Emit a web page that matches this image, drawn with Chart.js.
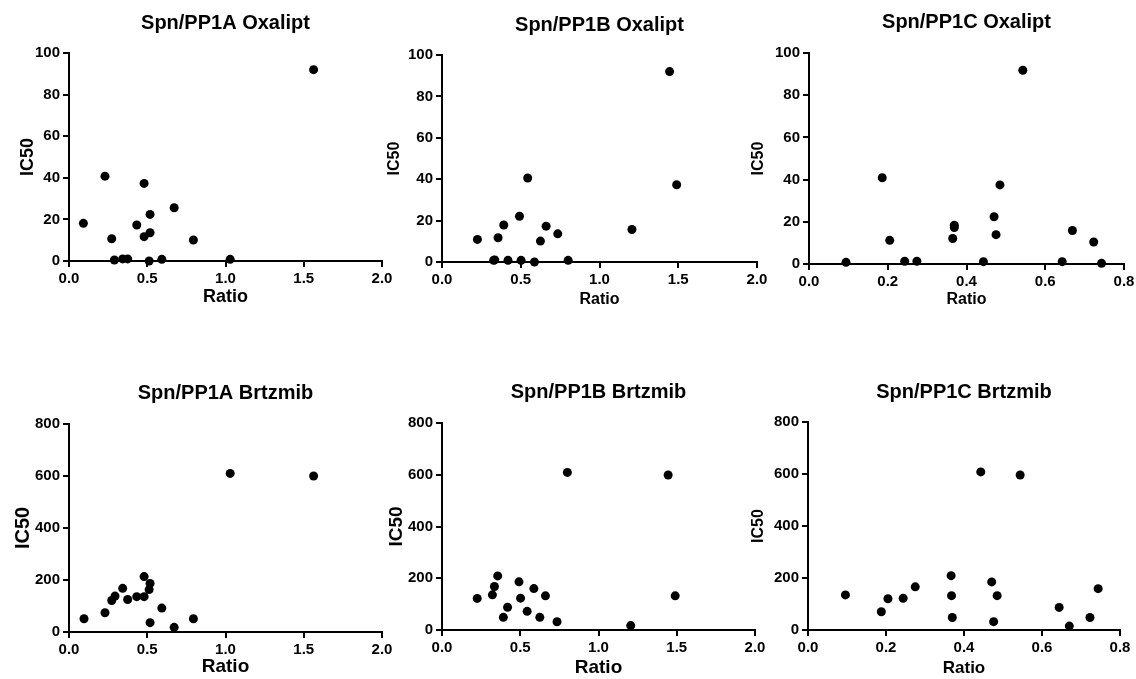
<!DOCTYPE html>
<html>
<head>
<meta charset="utf-8">
<script src="https://cdn.jsdelivr.net/npm/chart.js@4"></script>
<style>
  body { margin: 0; background: #fff; width: 1136px; height: 679px; position: relative; overflow: hidden; }
  canvas { position: absolute; }
</style>
</head>
<body>
<canvas id="c1"></canvas>
<canvas id="c2"></canvas>
<canvas id="c3"></canvas>
<canvas id="c4"></canvas>
<canvas id="c5"></canvas>
<canvas id="c6"></canvas>
<script>
// ratio values
const ratioA = [0.092, 0.230, 0.273, 0.290, 0.343, 0.375, 0.433, 0.480, 0.480, 0.518, 0.518, 0.512, 0.593, 0.672, 0.795, 1.030, 1.563];
const ratioB_ox = [0.225, 0.328, 0.335, 0.356, 0.392, 0.419, 0.492, 0.502, 0.544, 0.587, 0.625, 0.661, 0.735, 0.801, 1.206, 1.445, 1.490];
const ratioC_ox = [0.094, 0.186, 0.205, 0.243, 0.274, 0.365, 0.369, 0.369, 0.443, 0.470, 0.475, 0.485, 0.543, 0.643, 0.669, 0.723, 0.743];
const ratioA_bz = [0.096, 0.230, 0.273, 0.294, 0.343, 0.375, 0.433, 0.480, 0.480, 0.518, 0.512, 0.518, 0.593, 0.672, 0.795, 1.030, 1.563];
const ratioB_bz = [0.225, 0.322, 0.335, 0.356, 0.392, 0.419, 0.492, 0.502, 0.544, 0.587, 0.625, 0.661, 0.735, 0.801, 1.206, 1.445, 1.490];
const ratioC_bz = [0.096, 0.188, 0.205, 0.244, 0.275, 0.367, 0.368, 0.370, 0.443, 0.471, 0.476, 0.485, 0.544, 0.644, 0.670, 0.723, 0.744];

// IC50 values
const oxA = [18.1, 40.8, 10.7, 0.5, 1.0, 1.0, 17.3, 37.3, 11.7, 22.4, 13.6, 0.0, 0.8, 25.6, 10.1, 0.8, 92.0];
const oxB = [10.9, 0.8, 1.0, 11.7, 17.9, 0.8, 22.1, 0.8, 40.6, 0.0, 10.1, 17.3, 13.6, 0.8, 15.7, 92.0, 37.3];
const oxC = [0.8, 40.9, 11.2, 1.3, 1.3, 12.1, 17.3, 18.4, 1.1, 22.4, 13.9, 37.5, 91.8, 1.1, 15.9, 10.4, 0.3];
const bzA = [51, 74, 121, 138, 168, 125, 136, 213, 136, 187, 163, 36, 92, 18, 51, 610, 600];
const bzB = [122, 136, 168, 209, 49, 88, 186, 123, 72, 160, 49, 132, 32, 609, 17, 599, 132];
const bzC = [135, 70, 120, 122, 166, 209, 132, 48, 608, 185, 32, 132, 596, 87, 15, 48, 159];

// axis ticks
const oxTicks = [0, 20, 40, 60, 80, 100];
const bzTicks = [0, 200, 400, 600, 800];
const ratioTicksWide = [0, 0.5, 1.0, 1.5, 2.0];
const ratioTicksNarrow = [0, 0.2, 0.4, 0.6, 0.8];

const titles = ['Spn/PP1A Oxalipt', 'Spn/PP1B Oxalipt', 'Spn/PP1C Oxalipt',
                'Spn/PP1A Brtzmib', 'Spn/PP1B Brtzmib', 'Spn/PP1C Brtzmib'];

const FONT = "'Liberation Sans', Arial, Helvetica, sans-serif";

// canvas box [left, top, width, height], plot box [L, T, R, B]
const panels = [
  { id: 'c1', box: [0, 0, 400, 320],   plot: [69, 53, 382, 261],   titleY: 23,  yTitleX: 28,  xTitleY: 297, ySize: 18, xSize: 18, x: ratioA,   y: oxA, yt: oxTicks, xt: ratioTicksWide },
  { id: 'c2', box: [370, 0, 400, 320], plot: [442, 55, 757, 262],  titleY: 25,  yTitleX: 395, xTitleY: 300, ySize: 16, xSize: 16, x: ratioB_ox, y: oxB, yt: oxTicks, xt: ratioTicksWide },
  { id: 'c3', box: [740, 0, 396, 320], plot: [809, 53, 1124, 264], titleY: 22,  yTitleX: 759, xTitleY: 300, ySize: 16, xSize: 16, x: ratioC_ox, y: oxC, yt: oxTicks, xt: ratioTicksNarrow },
  { id: 'c4', box: [0, 330, 400, 349],   plot: [69, 424, 382, 632],   titleY: 393, yTitleX: 23,  xTitleY: 667, ySize: 20, xSize: 19, x: ratioA_bz, y: bzA, yt: bzTicks, xt: ratioTicksWide },
  { id: 'c5', box: [370, 330, 400, 349], plot: [442, 423, 755, 630],  titleY: 392, yTitleX: 397, xTitleY: 668, ySize: 19, xSize: 19, x: ratioB_bz, y: bzB, yt: bzTicks, xt: ratioTicksWide },
  { id: 'c6', box: [740, 330, 396, 349], plot: [808, 422, 1120, 630], titleY: 392, yTitleX: 759, xTitleY: 668, ySize: 16, xSize: 17, x: ratioC_bz, y: bzC, yt: bzTicks, xt: ratioTicksNarrow }
];

// title centred over the plot area
const panelTitle = {
  id: 'panelTitle',
  afterDraw(chart, args, opts) {
    const ctx = chart.ctx;
    const area = chart.chartArea;
    ctx.save();
    ctx.font = 'bold 20px ' + FONT;
    ctx.fillStyle = '#000';
    ctx.textAlign = 'center';
    ctx.textBaseline = 'middle';
    ctx.fillText(opts.text, (area.left + area.right) / 2, opts.y);
    ctx.restore();
  }
};

panels.forEach((p, i) => {
  const [cl, ct, cw, ch] = p.box;
  const [pl, pt, pr, pb] = p.plot;
  const canvas = document.getElementById(p.id);
  canvas.style.left = cl + 'px';
  canvas.style.top = ct + 'px';
  canvas.style.width = cw + 'px';
  canvas.style.height = ch + 'px';
  canvas.width = cw;
  canvas.height = ch;

  const points = p.x.map((v, k) => ({ x: v, y: p.y[k] }));
  const axisStyle = {
    grid: { display: true, drawOnChartArea: false, drawTicks: true, tickLength: 6, color: '#000', lineWidth: 2 },
    border: { display: true, color: '#000', width: 2 }
  };

  new Chart(canvas, {
    type: 'scatter',
    data: {
      datasets: [{
        data: points,
        backgroundColor: '#000',
        borderColor: '#000',
        pointRadius: 4.5,
        pointBorderWidth: 0,
        clip: false
      }]
    },
    options: {
      responsive: false,
      animation: false,
      layout: { padding: { top: pt - ct, right: cl + cw - pr, left: 0, bottom: 0 } },
      plugins: {
        legend: { display: false },
        tooltip: { enabled: false },
        panelTitle: { text: titles[i], y: p.titleY - ct }
      },
      scales: {
        x: {
          type: 'linear',
          min: p.xt[0],
          max: p.xt[p.xt.length - 1],
          afterBuildTicks: s => { s.ticks = p.xt.map(v => ({ value: v })); },
          afterFit: s => { s.height = ct + ch - pb; s.paddingLeft = 0; s.paddingRight = 0; },
          ticks: {
            color: '#000', padding: 3, maxRotation: 0,
            font: { family: FONT, size: 15, weight: 'bold' },
            callback: v => v.toFixed(1)
          },
          title: {
            display: true, text: 'Ratio', color: '#000',
            font: { family: FONT, size: p.xSize, weight: 'bold' },
            padding: { top: 0, bottom: ct + ch - p.xTitleY - p.xSize * 0.6 }
          },
          ...axisStyle
        },
        y: {
          type: 'linear',
          min: p.yt[0],
          max: p.yt[p.yt.length - 1],
          afterBuildTicks: s => { s.ticks = p.yt.map(v => ({ value: v })); },
          afterFit: s => { s.width = pl - cl; s.paddingTop = 0; s.paddingBottom = 0; },
          ticks: {
            color: '#000', padding: 3,
            font: { family: FONT, size: 15, weight: 'bold' }
          },
          title: {
            display: true, text: 'IC50', color: '#000',
            font: { family: FONT, size: p.ySize, weight: 'bold' },
            padding: { top: p.yTitleX - cl - p.ySize * 0.6, bottom: 0 }
          },
          ...axisStyle
        }
      }
    },
    plugins: [panelTitle]
  });
});
</script>
</body>
</html>
